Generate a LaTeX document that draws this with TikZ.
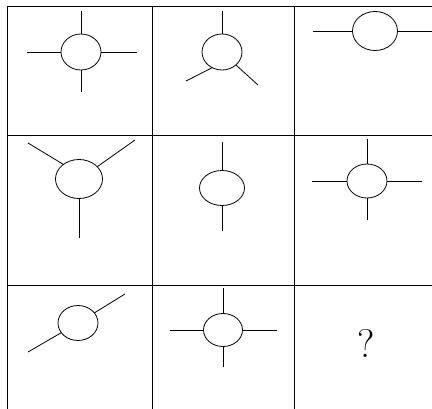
\documentclass[tikz,border=0pt]{standalone}
\usetikzlibrary{shapes.geometric}
\begin{document}
\begin{tikzpicture}[x=1pt,y=-1pt,line width=0.8pt,
  ring/.style={ellipse,draw,inner sep=0pt,outer sep=0pt},
  gridline/.style={line width=0.9pt},
  spoke/.style={line width=0.8pt}]
\useasboundingbox (0,0) rectangle (432,409);
% grid
\draw[gridline] (7,6) -- (432,6);
\draw[gridline] (7,135) -- (432,135);
\draw[gridline] (7,285) -- (432,285);
\draw[gridline] (7,6) -- (7,409);
\draw[gridline] (152,6) -- (152,409);
\draw[gridline] (294,6) -- (294,409);
% cell 1
\node[ring,minimum width=40pt,minimum height=36pt] (e1) at (81,52) {};
\coordinate (e1t) at (81,11); \coordinate (e1l) at (27,52);
\coordinate (e1r) at (137,52); \coordinate (e1b) at (81,92);
\draw[spoke] (e1t) -- (e1); \draw[spoke] (e1l) -- (e1);
\draw[spoke] (e1r) -- (e1); \draw[spoke] (e1b) -- (e1);
% cell 2
\node[ring,minimum width=40pt,minimum height=36pt] (e2) at (222,52) {};
\coordinate (e2t) at (222,11); \coordinate (e2a) at (186,81); \coordinate (e2b) at (258,85);
\draw[spoke] (e2t) -- (e2);
\draw[spoke] (e2a) -- (e2.238);
\draw[spoke] (e2b) -- (e2.317);
% cell 3
\node[ring,minimum width=45pt,minimum height=39pt] (e3) at (375,31) {};
\coordinate (e3l) at (313,31); \coordinate (e3r) at (432,31);
\draw[spoke] (e3l) -- (e3); \draw[spoke] (e3r) -- (e3);
% cell 4
\node[ring,minimum width=47pt,minimum height=39pt] (e4) at (79,179) {};
\coordinate (e4a) at (28,143); \coordinate (e4b) at (135,140); \coordinate (e4c) at (79,238);
\draw[spoke] (e4a) -- (e4.137);
\draw[spoke] (e4b) -- (e4.34);
\draw[spoke] (e4c) -- (e4);
% cell 5
\node[ring,minimum width=45pt,minimum height=35pt] (e5) at (222,188) {};
\coordinate (e5t) at (222,142); \coordinate (e5b) at (222,231);
\draw[spoke] (e5t) -- (e5); \draw[spoke] (e5b) -- (e5);
% cell 6
\node[ring,minimum width=40pt,minimum height=34pt] (e6) at (367,181) {};
\coordinate (e6t) at (367,139); \coordinate (e6l) at (312,181);
\coordinate (e6r) at (422,181); \coordinate (e6b) at (367,220);
\draw[spoke] (e6t) -- (e6); \draw[spoke] (e6l) -- (e6);
\draw[spoke] (e6r) -- (e6); \draw[spoke] (e6b) -- (e6);
% cell 7
\node[ring,minimum width=40pt,minimum height=35pt] (e7) at (78,323) {};
\coordinate (e7a) at (28,352); \coordinate (e7b) at (125,294);
\draw[spoke] (e7a) -- (e7); \draw[spoke] (e7b) -- (e7);
% cell 8
\node[ring,minimum width=39pt,minimum height=33pt] (e8) at (223,330) {};
\coordinate (e8t) at (223,288); \coordinate (e8l) at (170,330);
\coordinate (e8r) at (277,330); \coordinate (e8b) at (223,367);
\draw[spoke] (e8t) -- (e8); \draw[spoke] (e8l) -- (e8);
\draw[spoke] (e8r) -- (e8); \draw[spoke] (e8b) -- (e8);
% cell 9
\node[inner sep=0pt,font=\fontsize{40}{40}\selectfont] (q) at (366,343) {?};
\end{tikzpicture}
\end{document}
